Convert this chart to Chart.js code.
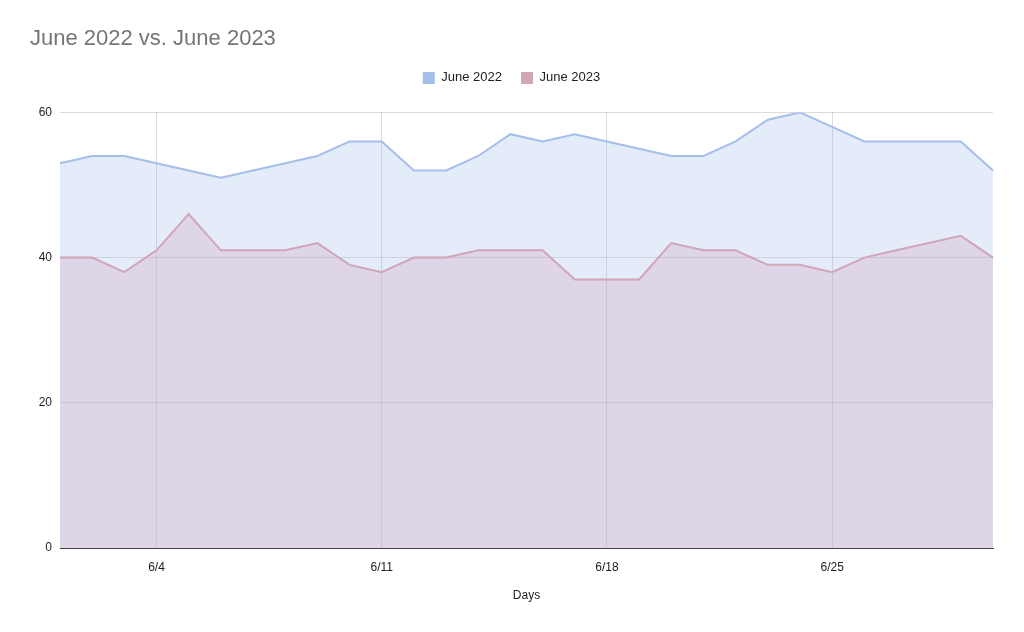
<!DOCTYPE html>
<html>
<head>
<meta charset="utf-8">
<script src="https://cdn.jsdelivr.net/npm/chart.js@4/dist/chart.umd.min.js"></script>
<style>
  html, body { margin: 0; padding: 0; background: #fff; }
  #wrap { width: 1024px; height: 632px; }
</style>
</head>
<body>
<div id="wrap"><canvas id="areaChart"></canvas></div>
<script>
const days = ['6/1', '6/2', '6/3', '6/4', '6/5', '6/6', '6/7', '6/8', '6/9', '6/10',
              '6/11', '6/12', '6/13', '6/14', '6/15', '6/16', '6/17', '6/18', '6/19', '6/20',
              '6/21', '6/22', '6/23', '6/24', '6/25', '6/26', '6/27', '6/28', '6/29', '6/30'];
const june2022 = [53, 54, 54, 53, 52, 51, 52, 53, 54, 56,
                  56, 52, 52, 54, 57, 56, 57, 56, 55, 54,
                  54, 56, 59, 60, 58, 56, 56, 56, 56, 52];
const june2023 = [40, 40, 38, 41, 46, 41, 41, 41, 42, 39,
                  38, 40, 40, 41, 41, 41, 37, 37, 37, 42,
                  41, 41, 39, 39, 38, 40, 41, 42, 43, 40];
const shownDays = ['6/4', '6/11', '6/18', '6/25'];
const yTicks = [0, 20, 40, 60];

const font = 'Arial, "Liberation Sans", sans-serif';

// Google Sheets style colours
const blue = 'rgb(165,190,234)';
const pink = 'rgb(208,166,184)';

// push the plot area down a bit below the legend
const legendGap = {
    id: 'legendGap',
    beforeLayout(chart) {
        const legend = chart.legend;
        if (legend && !legend._gapPatched) {
            const fit = legend.fit;
            legend.fit = function () {
                fit.call(this);
                this.height += 18;
            };
            legend._gapPatched = true;
        }
    }
};

new Chart(document.getElementById('areaChart'), {
    type: 'line',
    data: {
        labels: days,
        datasets: [{
            label: 'June 2022',
            data: june2022,
            borderColor: blue,
            backgroundColor: 'rgba(165,190,234,0.3)',
            borderWidth: 2,
            pointRadius: 0,
            tension: 0,
            fill: 'origin',
            order: 1
        }, {
            label: 'June 2023',
            data: june2023,
            borderColor: pink,
            backgroundColor: 'rgba(208,166,184,0.3)',
            borderWidth: 2,
            pointRadius: 0,
            tension: 0,
            fill: 'origin',
            order: 0
        }]
    },
    plugins: [legendGap],
    options: {
        responsive: true,
        maintainAspectRatio: false,
        animation: false,
        layout: { padding: { left: 30, right: 31, top: 0, bottom: 29 } },
        plugins: {
            title: {
                display: true,
                text: 'June 2022 vs. June 2023',
                align: 'start',
                color: '#757575',
                font: { family: font, size: 22, weight: 'normal' },
                padding: { top: 26, bottom: 0 }
            },
            legend: {
                display: true,
                position: 'top',
                labels: {
                    color: '#222',
                    font: { family: font, size: 13 },
                    boxWidth: 12,
                    boxHeight: 12,
                    padding: 19,
                    sort: (a, b) => a.datasetIndex - b.datasetIndex,
                    generateLabels: (chart) => chart.data.datasets.map((ds, i) => ({
                        text: ds.label,
                        fillStyle: ds.borderColor,
                        strokeStyle: ds.borderColor,
                        lineWidth: 0,
                        datasetIndex: i,
                        fontColor: '#222'
                    }))
                }
            },
            tooltip: { enabled: false }
        },
        scales: {
            x: {
                offset: false,
                afterFit: (scale) => { scale.height = 55; },
                grid: {
                    drawTicks: false,
                    color: (ctx) => shownDays.includes(days[ctx.index]) ? 'rgba(0,0,0,0.14)' : 'rgba(0,0,0,0)'
                },
                border: { display: true, color: '#444', width: 1 },
                ticks: {
                    autoSkip: false,
                    maxRotation: 0,
                    padding: 12,
                    color: '#222',
                    font: { family: font, size: 12 },
                    callback: function (value, index) {
                        return shownDays.includes(days[index]) ? days[index] : '';
                    }
                },
                title: {
                    display: true,
                    text: 'Days',
                    color: '#222',
                    font: { family: font, size: 12 },
                    padding: { top: 16, bottom: 0 }
                }
            },
            y: {
                min: 0,
                max: 60,
                afterFit: (scale) => { scale.width = 30; },
                afterBuildTicks: (scale) => { scale.ticks = yTicks.map(v => ({ value: v })); },
                grid: {
                    drawTicks: false,
                    color: (ctx) => ctx.tick && ctx.tick.value === 0 ? 'rgba(0,0,0,0)' : 'rgba(0,0,0,0.14)'
                },
                border: { display: false },
                ticks: {
                    padding: 8,
                    color: '#222',
                    font: { family: font, size: 12 }
                }
            }
        }
    }
});
</script>
</body>
</html>
